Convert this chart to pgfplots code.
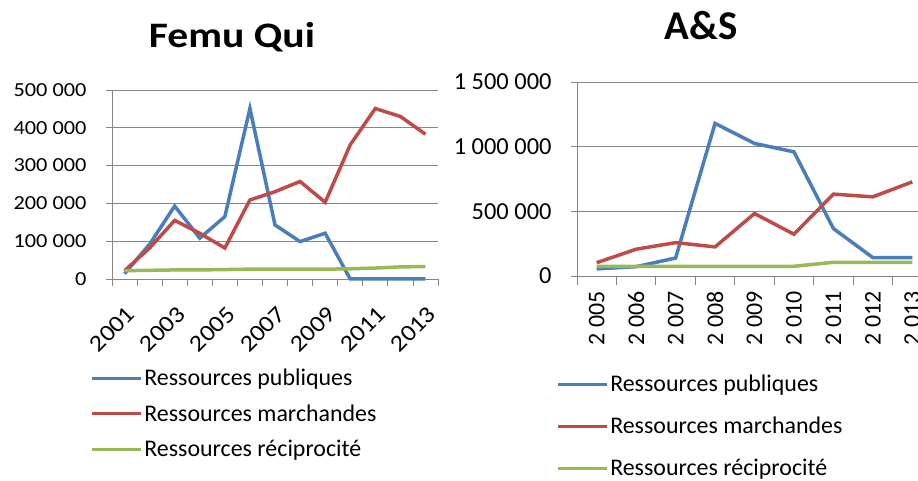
\documentclass[border=0pt]{standalone}
\usepackage{fontspec}
\setmainfont{Carlito}
\newfontfamily\stretchfont[FakeStretch=1.12]{Carlito}
\newfontfamily\titlefont[FakeStretch=1.16]{Carlito}
\usepackage{pgfplots}
\usepackage{pgfplotstable}
\pgfplotsset{compat=1.18}
\definecolor{cblue}{RGB}{74,126,187}
\definecolor{cred}{RGB}{190,75,72}
\definecolor{cgreen}{RGB}{152,185,84}
\definecolor{cgrid}{RGB}{134,134,134}

\pgfplotstableread{
x pub mar rec
0 14000 22000 22000
1 92000 82000 23000
2 193000 155000 24000
3 108000 121000 24000
4 165000 82000 25000
5 451000 209000 26000
6 143000 231000 26000
7 99000 258000 26000
8 121000 203000 26000
9 0 355000 27000
10 0 451000 29000
11 0 430000 32000
12 0 383000 33000
}\femu

\pgfplotstableread{
x pub mar rec
0 55000 103000 75000
1 72000 207000 75000
2 139000 258000 75000
3 1180000 225000 75000
4 1025000 483000 75000
5 960000 323000 75000
6 367000 633000 106000
7 142000 612000 106000
8 142000 728000 106000
}\aes

\pgfplotsset{
  common/.style={
    scale only axis,
    axis x line*=bottom, axis y line*=left,
    axis line style={cgrid, line width=0.8pt, -},
    tick align=outside,
    tick style={cgrid, line width=0.8pt},
    ymajorgrids, grid style={cgrid, line width=0.8pt},
    scaled y ticks=false,
    clip=false,
    every axis plot/.append style={line width=3.5bp},
    legend cell align=left,
    legend image code/.code={\draw[##1,line width=3bp] (0bp,0bp) -- (49bp,0bp);},
  }
}

\begin{document}
\begin{tikzpicture}
\begin{axis}[common,
  at={(112bp,202bp)}, anchor=south west, width=326bp, height=189bp,
  xmin=-0.5, xmax=12.5, ymin=0, ymax=500000,
  xtick={0,2,...,12}, xticklabels={2001,2003,2005,2007,2009,2011,2013},
  major x tick style={draw=none},
  minor xtick={-0.5,0.5,...,12.5},
  minor tick length=7bp, major tick length=6bp,
  ytick={0,100000,...,500000},
  yticklabels={0,100~000,200~000,300~000,400~000,500~000},
  yticklabel style={font=\stretchfont\fontsize{20}{20}\selectfont, anchor=east, xshift=-16bp},
  xticklabel style={font=\stretchfont\fontsize{23.5}{23.5}\selectfont, xshift=1bp, yshift=-15bp, rotate=45, anchor=north east},
  title={\titlefont\bfseries\fontsize{36}{36}\selectfont Femu Qui},
  title style={at={(0.368,1.195)}, anchor=base, inner sep=0pt, yshift=0pt},
  legend style={at={(-0.067,-0.466)}, anchor=north west, draw=none, fill=none, inner sep=0pt,
    font=\fontsize{24}{24}\selectfont, row sep=13.5bp, nodes={inner sep=2bp}},
]
\addplot[cblue] table[x=x,y=pub]{\femu};
\addplot[cred] table[x=x,y=mar]{\femu};
\addplot[cgreen] table[x=x,y=rec]{\femu};
\legend{Ressources publiques,Ressources marchandes,Ressources réciprocité}
\end{axis}

\begin{axis}[common,
  at={(577bp,205bp)}, anchor=south west, width=355bp, height=194bp,
  xmin=-0.5, xmax=8.5, ymin=0, ymax=1500000,
  xtick={0,...,8}, xticklabels={2~005,2~006,2~007,2~008,2~009,2~010,2~011,2~012,2~013},
  major x tick style={draw=none},
  minor xtick={-0.5,0.5,...,8.5},
  minor tick length=9bp, major tick length=6bp,
  ytick={0,500000,1000000,1500000},
  yticklabels={0,500~000,1~000~000,1~500~000},
  yticklabel style={font=\fontsize{24.5}{24.5}\selectfont, anchor=east, xshift=-16bp},
  xticklabel style={font=\fontsize{24}{24}\selectfont, yshift=-6bp, rotate=90, anchor=east},
  title={\bfseries\fontsize{41}{41}\selectfont A\&S},
  title style={at={(0.349,1.19)}, anchor=base, inner sep=0pt, yshift=0pt},
  legend style={at={(-0.059,-0.50)}, anchor=north west, draw=none, fill=none, inner sep=0pt,
    font=\fontsize{24}{24}\selectfont, row sep=20bp, nodes={inner sep=2bp}},
]
\addplot[cblue] table[x=x,y=pub]{\aes};
\addplot[cred] table[x=x,y=mar]{\aes};
\addplot[cgreen] table[x=x,y=rec]{\aes};
\legend{Ressources publiques,Ressources marchandes,Ressources réciprocité}
\end{axis}
\pgfresetboundingbox
\path[use as bounding box] (0bp,0bp) rectangle (918bp,481bp);
\end{tikzpicture}
\end{document}
